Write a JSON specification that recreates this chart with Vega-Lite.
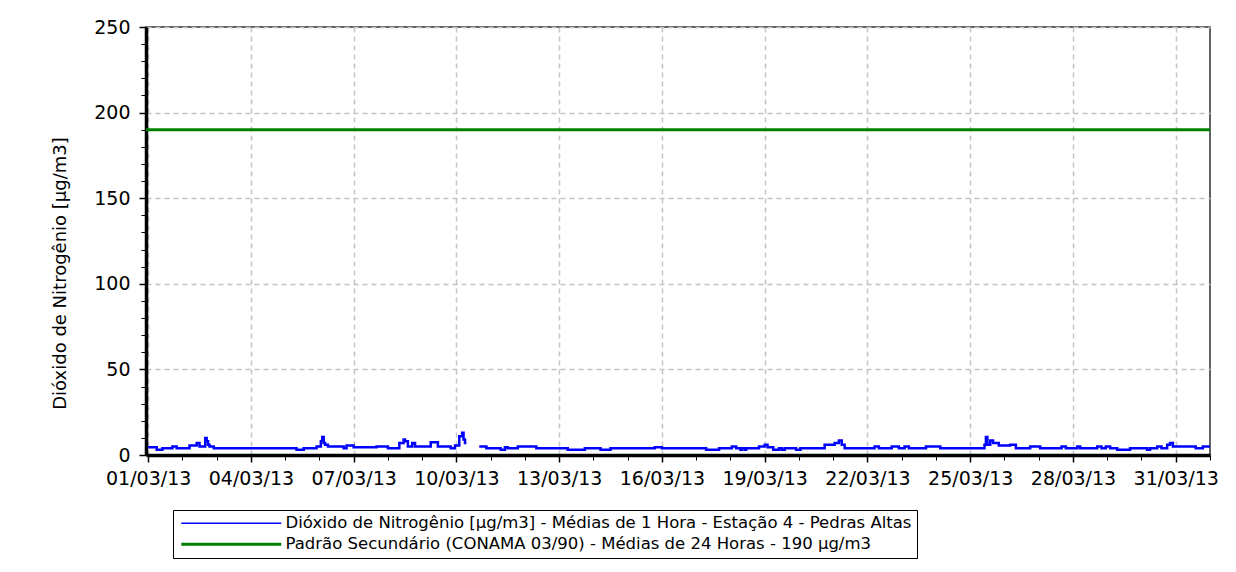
{
  "$schema": "https://vega.github.io/schema/vega-lite/v6.json",
  "width": 1064,
  "height": 428,
  "autosize": {"type": "none"},
  "padding": {"left": 146, "top": 27, "right": 26, "bottom": 117},
  "background": "white",
  "datasets": {
    "no2": [
      {"t": "2013-03-01T00:00", "v": 4.5, "s": "NO2", "g": 1},
      {"t": "2013-03-01T06:00", "v": 3, "s": "NO2", "g": 1},
      {"t": "2013-03-01T10:00", "v": 4, "s": "NO2", "g": 1},
      {"t": "2013-03-01T17:00", "v": 5, "s": "NO2", "g": 1},
      {"t": "2013-03-01T20:00", "v": 4, "s": "NO2", "g": 1},
      {"t": "2013-03-02T05:00", "v": 5.5, "s": "NO2", "g": 1},
      {"t": "2013-03-02T10:00", "v": 7, "s": "NO2", "g": 1},
      {"t": "2013-03-02T12:00", "v": 5, "s": "NO2", "g": 1},
      {"t": "2013-03-02T16:00", "v": 10, "s": "NO2", "g": 1},
      {"t": "2013-03-02T17:00", "v": 8, "s": "NO2", "g": 1},
      {"t": "2013-03-02T18:00", "v": 6, "s": "NO2", "g": 1},
      {"t": "2013-03-02T19:00", "v": 5, "s": "NO2", "g": 1},
      {"t": "2013-03-02T22:00", "v": 4, "s": "NO2", "g": 1},
      {"t": "2013-03-05T08:00", "v": 3, "s": "NO2", "g": 1},
      {"t": "2013-03-05T13:00", "v": 4, "s": "NO2", "g": 1},
      {"t": "2013-03-05T22:00", "v": 5, "s": "NO2", "g": 1},
      {"t": "2013-03-06T01:00", "v": 8, "s": "NO2", "g": 1},
      {"t": "2013-03-06T02:00", "v": 10.5, "s": "NO2", "g": 1},
      {"t": "2013-03-06T03:00", "v": 7, "s": "NO2", "g": 1},
      {"t": "2013-03-06T04:00", "v": 6, "s": "NO2", "g": 1},
      {"t": "2013-03-06T06:00", "v": 5, "s": "NO2", "g": 1},
      {"t": "2013-03-06T17:00", "v": 4, "s": "NO2", "g": 1},
      {"t": "2013-03-06T19:00", "v": 5.5, "s": "NO2", "g": 1},
      {"t": "2013-03-07T00:00", "v": 4.5, "s": "NO2", "g": 1},
      {"t": "2013-03-07T16:00", "v": 5, "s": "NO2", "g": 1},
      {"t": "2013-03-08T00:00", "v": 4, "s": "NO2", "g": 1},
      {"t": "2013-03-08T08:00", "v": 7, "s": "NO2", "g": 1},
      {"t": "2013-03-08T11:00", "v": 9, "s": "NO2", "g": 1},
      {"t": "2013-03-08T12:00", "v": 8, "s": "NO2", "g": 1},
      {"t": "2013-03-08T14:00", "v": 5, "s": "NO2", "g": 1},
      {"t": "2013-03-08T17:00", "v": 7, "s": "NO2", "g": 1},
      {"t": "2013-03-08T19:00", "v": 5, "s": "NO2", "g": 1},
      {"t": "2013-03-09T06:00", "v": 7.5, "s": "NO2", "g": 1},
      {"t": "2013-03-09T11:00", "v": 5, "s": "NO2", "g": 1},
      {"t": "2013-03-09T20:00", "v": 4, "s": "NO2", "g": 1},
      {"t": "2013-03-09T23:00", "v": 5.5, "s": "NO2", "g": 1},
      {"t": "2013-03-10T02:00", "v": 11, "s": "NO2", "g": 1},
      {"t": "2013-03-10T04:00", "v": 13, "s": "NO2", "g": 1},
      {"t": "2013-03-10T05:00", "v": 9, "s": "NO2", "g": 1},
      {"t": "2013-03-10T06:00", "v": 7, "s": "NO2", "g": 1},
      {"t": "2013-03-10T07:00", "v": 7, "s": "NO2", "g": 1},
      {"t": "2013-03-10T16:00", "v": 5, "s": "NO2", "g": 2},
      {"t": "2013-03-10T21:00", "v": 4, "s": "NO2", "g": 2},
      {"t": "2013-03-11T07:00", "v": 3, "s": "NO2", "g": 2},
      {"t": "2013-03-11T10:00", "v": 4.5, "s": "NO2", "g": 2},
      {"t": "2013-03-11T12:00", "v": 4, "s": "NO2", "g": 2},
      {"t": "2013-03-11T19:00", "v": 5, "s": "NO2", "g": 2},
      {"t": "2013-03-12T08:00", "v": 4, "s": "NO2", "g": 2},
      {"t": "2013-03-13T06:00", "v": 3, "s": "NO2", "g": 2},
      {"t": "2013-03-13T18:00", "v": 4, "s": "NO2", "g": 2},
      {"t": "2013-03-14T05:00", "v": 3, "s": "NO2", "g": 2},
      {"t": "2013-03-14T12:00", "v": 4, "s": "NO2", "g": 2},
      {"t": "2013-03-15T19:00", "v": 4.5, "s": "NO2", "g": 2},
      {"t": "2013-03-16T00:00", "v": 4, "s": "NO2", "g": 2},
      {"t": "2013-03-17T07:00", "v": 3, "s": "NO2", "g": 2},
      {"t": "2013-03-17T16:00", "v": 4, "s": "NO2", "g": 2},
      {"t": "2013-03-18T01:00", "v": 5, "s": "NO2", "g": 2},
      {"t": "2013-03-18T04:00", "v": 4, "s": "NO2", "g": 2},
      {"t": "2013-03-18T07:00", "v": 3, "s": "NO2", "g": 2},
      {"t": "2013-03-18T08:00", "v": 4, "s": "NO2", "g": 2},
      {"t": "2013-03-18T10:00", "v": 3, "s": "NO2", "g": 2},
      {"t": "2013-03-18T11:00", "v": 4, "s": "NO2", "g": 2},
      {"t": "2013-03-18T20:00", "v": 5, "s": "NO2", "g": 2},
      {"t": "2013-03-19T00:00", "v": 6, "s": "NO2", "g": 2},
      {"t": "2013-03-19T02:00", "v": 4.5, "s": "NO2", "g": 2},
      {"t": "2013-03-19T06:00", "v": 3, "s": "NO2", "g": 2},
      {"t": "2013-03-19T10:00", "v": 4, "s": "NO2", "g": 2},
      {"t": "2013-03-19T12:00", "v": 3, "s": "NO2", "g": 2},
      {"t": "2013-03-19T14:00", "v": 4, "s": "NO2", "g": 2},
      {"t": "2013-03-19T22:00", "v": 3, "s": "NO2", "g": 2},
      {"t": "2013-03-20T01:00", "v": 4, "s": "NO2", "g": 2},
      {"t": "2013-03-20T18:00", "v": 6, "s": "NO2", "g": 2},
      {"t": "2013-03-21T01:00", "v": 7, "s": "NO2", "g": 2},
      {"t": "2013-03-21T04:00", "v": 8.5, "s": "NO2", "g": 2},
      {"t": "2013-03-21T06:00", "v": 6, "s": "NO2", "g": 2},
      {"t": "2013-03-21T08:00", "v": 4, "s": "NO2", "g": 2},
      {"t": "2013-03-22T05:00", "v": 5, "s": "NO2", "g": 2},
      {"t": "2013-03-22T08:00", "v": 4, "s": "NO2", "g": 2},
      {"t": "2013-03-22T17:00", "v": 5, "s": "NO2", "g": 2},
      {"t": "2013-03-22T22:00", "v": 4, "s": "NO2", "g": 2},
      {"t": "2013-03-23T02:00", "v": 5, "s": "NO2", "g": 2},
      {"t": "2013-03-23T05:00", "v": 4, "s": "NO2", "g": 2},
      {"t": "2013-03-23T17:00", "v": 5, "s": "NO2", "g": 2},
      {"t": "2013-03-24T03:00", "v": 4, "s": "NO2", "g": 2},
      {"t": "2013-03-25T10:00", "v": 6, "s": "NO2", "g": 2},
      {"t": "2013-03-25T11:00", "v": 10.5, "s": "NO2", "g": 2},
      {"t": "2013-03-25T12:00", "v": 6, "s": "NO2", "g": 2},
      {"t": "2013-03-25T14:00", "v": 8.5, "s": "NO2", "g": 2},
      {"t": "2013-03-25T16:00", "v": 7, "s": "NO2", "g": 2},
      {"t": "2013-03-25T20:00", "v": 5.5, "s": "NO2", "g": 2},
      {"t": "2013-03-26T04:00", "v": 6, "s": "NO2", "g": 2},
      {"t": "2013-03-26T08:00", "v": 4, "s": "NO2", "g": 2},
      {"t": "2013-03-26T18:00", "v": 5, "s": "NO2", "g": 2},
      {"t": "2013-03-27T01:00", "v": 4, "s": "NO2", "g": 2},
      {"t": "2013-03-27T16:00", "v": 5, "s": "NO2", "g": 2},
      {"t": "2013-03-27T19:00", "v": 4, "s": "NO2", "g": 2},
      {"t": "2013-03-28T03:00", "v": 5, "s": "NO2", "g": 2},
      {"t": "2013-03-28T05:00", "v": 4, "s": "NO2", "g": 2},
      {"t": "2013-03-28T17:00", "v": 5, "s": "NO2", "g": 2},
      {"t": "2013-03-28T20:00", "v": 4, "s": "NO2", "g": 2},
      {"t": "2013-03-28T23:00", "v": 5, "s": "NO2", "g": 2},
      {"t": "2013-03-29T02:00", "v": 4, "s": "NO2", "g": 2},
      {"t": "2013-03-29T07:00", "v": 3, "s": "NO2", "g": 2},
      {"t": "2013-03-29T16:00", "v": 4, "s": "NO2", "g": 2},
      {"t": "2013-03-30T04:00", "v": 3, "s": "NO2", "g": 2},
      {"t": "2013-03-30T06:00", "v": 4, "s": "NO2", "g": 2},
      {"t": "2013-03-30T11:00", "v": 5, "s": "NO2", "g": 2},
      {"t": "2013-03-30T14:00", "v": 4, "s": "NO2", "g": 2},
      {"t": "2013-03-30T18:00", "v": 6, "s": "NO2", "g": 2},
      {"t": "2013-03-30T20:00", "v": 7, "s": "NO2", "g": 2},
      {"t": "2013-03-30T22:00", "v": 5, "s": "NO2", "g": 2},
      {"t": "2013-03-31T14:00", "v": 4, "s": "NO2", "g": 2},
      {"t": "2013-03-31T19:00", "v": 5, "s": "NO2", "g": 2},
      {"t": "2013-04-01T00:00", "v": 5, "s": "NO2", "g": 2}
    ],
    "pad": [
      {"t": "2013-02-28T22:30", "v": 190, "s": "PAD"},
      {"t": "2013-04-01T00:00", "v": 190, "s": "PAD"}
    ]
  },
  "layer": [
    {
      "data": {"name": "no2"},
      "mark": {"type": "line", "interpolate": "step-after", "strokeWidth": 2.5},
      "encoding": {
        "x": {
          "field": "t", "type": "temporal",
          "scale": {"domain": [{"year": 2013, "month": "feb", "date": 28, "hours": 22, "minutes": 30}, {"year": 2013, "month": "apr", "date": 1}]},
          "axis": {
            "title": null, "format": "%d/%m/%y",
            "values": [
              {"year": 2013, "month": "mar", "date": 1},
              {"year": 2013, "month": "mar", "date": 4},
              {"year": 2013, "month": "mar", "date": 7},
              {"year": 2013, "month": "mar", "date": 10},
              {"year": 2013, "month": "mar", "date": 13},
              {"year": 2013, "month": "mar", "date": 16},
              {"year": 2013, "month": "mar", "date": 19},
              {"year": 2013, "month": "mar", "date": 22},
              {"year": 2013, "month": "mar", "date": 25},
              {"year": 2013, "month": "mar", "date": 28},
              {"year": 2013, "month": "mar", "date": 31}
            ],
            "grid": true, "domainWidth": 3.5, "tickSize": 7, "tickWidth": 1.5,
            "labelFontSize": 19, "labelPadding": 7, "labelFlush": false, "labelOverlap": false
          }
        },
        "y": {
          "field": "v", "type": "quantitative",
          "scale": {"domain": [0, 250], "nice": false},
          "axis": {
            "title": "Dióxido de Nitrogênio [µg/m3]",
            "values": [0, 50, 100, 150, 200, 250],
            "grid": true, "domainWidth": 3.5, "tickSize": 7, "tickWidth": 1.5,
            "labelFontSize": 19, "labelPadding": 9,
            "titleFontSize": 18, "titleX": -86, "titleY": 246, "titleBaseline": "middle", "titleAngle": 270
          }
        },
        "color": {
          "field": "s", "type": "nominal",
          "scale": {"domain": ["NO2", "PAD"], "range": ["#0000ff", "#008000"]},
          "legend": {
            "title": null,
            "orient": "none", "legendX": 27, "legendY": 483,
            "direction": "vertical",
            "symbolType": "M-1,0H1", "symbolSize": 10000, "symbolOffset": 45,
            "labelExpr": "datum.value == 'NO2' ? 'Dióxido de Nitrogênio [µg/m3] - Médias de 1 Hora - Estação 4 - Pedras Altas' : 'Padrão Secundário (CONAMA 03/90) - Médias de 24 Horas - 190 µg/m3'",
            "labelFont": "DejaVu Sans", "labelFontSize": 16.5, "labelColor": "black",
            "labelLimit": 0, "labelOffset": 46,
            "strokeColor": "black", "fillColor": "white", "padding": 5, "rowPadding": 4,
            "encode": {"symbols": {"update": {"strokeWidth": {"signal": "datum.value === 'PAD' ? 3 : 1.5"}}}}
          }
        },
        "detail": {"field": "g", "type": "nominal"}
      }
    },
    {
      "data": {"name": "pad"},
      "mark": {"type": "line", "strokeWidth": 3},
      "encoding": {
        "x": {
          "field": "t", "type": "temporal",
          "axis": {
            "orient": "bottom", "title": null, "labels": false, "grid": false, "domain": false,
            "tickCount": {"interval": "day", "step": 1}, "tickSize": 5, "tickWidth": 1
          }
        },
        "y": {
          "field": "v", "type": "quantitative",
          "axis": {
            "orient": "left", "title": null, "labels": false, "grid": false, "domain": false,
            "values": [0, 10, 20, 30, 40, 50, 60, 70, 80, 90, 100, 110, 120, 130, 140, 150, 160, 170, 180, 190, 200, 210, 220, 230, 240, 250],
            "tickSize": 5, "tickWidth": 1
          }
        },
        "color": {"field": "s", "type": "nominal"}
      }
    }
  ],
  "resolve": {"axis": {"x": "independent", "y": "independent"}},
  "config": {
    "view": {"stroke": "#303030", "strokeWidth": 1.5},
    "axis": {
      "labelFont": "DejaVu Sans", "labelFontSize": 18, "labelColor": "black",
      "titleFont": "DejaVu Sans", "titleFontWeight": "normal", "titleColor": "black",
      "domainColor": "black", "tickColor": "black",
      "gridColor": "#c4c4c4", "gridDash": [5, 4], "gridWidth": 1.5
    }
  }
}
